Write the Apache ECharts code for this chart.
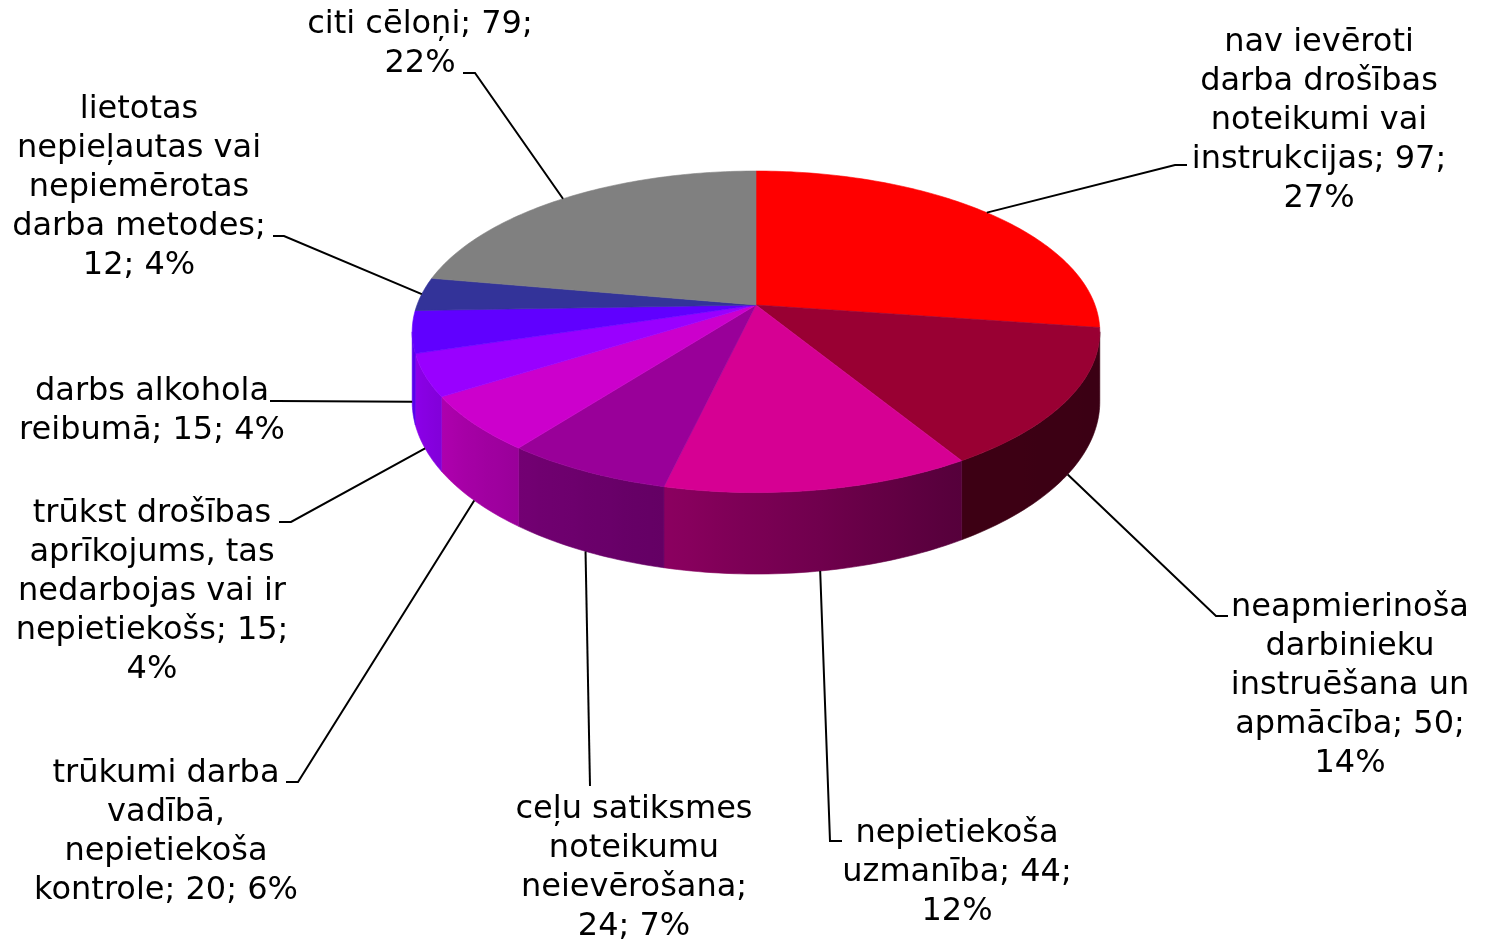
<!DOCTYPE html>
<html><head><meta charset="utf-8">
<script src="https://cdn.jsdelivr.net/npm/echarts@6/dist/echarts.min.js"></script>
<style>html,body{margin:0;padding:0;background:#fff}#c{width:1489px;height:939px}</style>
</head><body><div id="c"></div>
<script>
// ---- data ----
const categories = [
  'nav ievēroti darba drošības noteikumi vai instrukcijas',
  'neapmierinoša darbinieku instruēšana un apmācība',
  'nepietiekoša uzmanība',
  'ceļu satiksmes noteikumu neievērošana',
  'trūkumi darba vadībā, nepietiekoša kontrole',
  'trūkst drošības aprīkojums, tas nedarbojas vai ir nepietiekošs',
  'darbs alkohola reibumā',
  'lietotas nepieļautas vai nepiemērotas darba metodes',
  'citi cēloņi'
];
const values = [97, 50, 44, 24, 20, 15, 15, 12, 79];
const percents = ['27%', '14%', '12%', '7%', '6%', '4%', '4%', '4%', '22%'];

// ---- styles / layout ----
const colors = ['#FF0000', '#990033', '#D60093', '#990099', '#CC00CC', '#9900FF', '#6000FF', '#333399', '#808080'];
// words per line, label centre x, first line centre y, leader elbow, leader end
const labelLayout = [
  { lines: [2, 2, 2, 2, 1], cx: 1319, cy: 40,  pts: [[1175, 165], [1187, 165]] },
  { lines: [1, 1, 2, 2, 1], cx: 1350, cy: 605, pts: [[1216, 616], [1228, 616]] },
  { lines: [1, 2, 1],       cx: 957,  cy: 831, pts: [[830, 841], [842, 841]] },
  { lines: [2, 1, 1, 2],    cx: 634,  cy: 807, pts: [[590, 786]] },
  { lines: [2, 1, 1, 3],    cx: 166,  cy: 771, pts: [[298, 782], [286, 782]] },
  { lines: [2, 2, 3, 2, 1], cx: 152,  cy: 511, pts: [[291, 522], [279, 522]] },
  { lines: [2, 3],          cx: 152,  cy: 389, pts: [[277, 401], [270, 401]] },
  { lines: [1, 2, 1, 2, 2], cx: 139,  cy: 107, pts: [[284, 236], [273, 236]] },
  { lines: [3, 1],          cx: 420,  cy: 22,  pts: [[475, 73], [463, 73]] }
];
const FONT = { size: 32, family: '"DejaVu Sans", Verdana, sans-serif', lineHeight: 39, dy: 3 };
// pie geometry (perspective ellipse)
const G = { cx: 756, cy: 305, a: 339, b: 156.3, k: 0.1667, h: 67.9 };
// wall brightness vs angle (degrees clockwise from top)
const light = [[90, 0.38], [150, 0.40], [193, 0.65], [217, 0.75], [237, 0.85], [253, 0.92], [270, 0.96]];

const total = values.reduce((s, v) => s + v, 0);
const starts = [];
{ let acc = 0; values.forEach(v => { starts.push(acc / total * 360); acc += v; }); }
const TS = Math.acos(-G.k) * 180 / Math.PI; // silhouette angle

function proj(deg, h) {
  const t = deg * Math.PI / 180;
  const u = Math.sin(t), v = -Math.cos(t);
  const w = 1 - G.k * v;
  return [G.cx + G.a * u / w, G.cy + (G.b * v + h) / w];
}
function lightAt(deg) {
  if (deg <= light[0][0]) return light[0][1];
  for (let i = 1; i < light.length; i++) {
    if (deg <= light[i][0]) {
      const [a0, f0] = light[i - 1], [a1, f1] = light[i];
      return f0 + (f1 - f0) * (deg - a0) / (a1 - a0);
    }
  }
  return light[light.length - 1][1];
}
function shade(hex, f) {
  const n = parseInt(hex.slice(1), 16);
  const r = Math.round(((n >> 16) & 255) * f), g = Math.round(((n >> 8) & 255) * f), b = Math.round((n & 255) * f);
  return 'rgb(' + r + ',' + g + ',' + b + ')';
}
function arc(a0, a1, h) {
  const pts = [];
  const n = Math.max(2, Math.ceil((a1 - a0) / 1));
  for (let j = 0; j <= n; j++) pts.push(proj(a0 + (a1 - a0) * j / n, h));
  return pts;
}
function labelText(i) {
  const words = (categories[i] + '; ' + values[i] + '; ' + percents[i]).split(' ');
  const out = []; let p = 0;
  labelLayout[i].lines.forEach(c => { out.push(words.slice(p, p + c).join(' ')); p += c; });
  return out.join('\n');
}

function renderItem(params, api) {
  const i = params.dataIndex;
  const val = api.value(0);
  const a0 = starts[i], a1 = a0 + val / total * 360;
  const col = colors[i];
  const children = [];
  // front wall
  const w0 = Math.max(a0, TS), w1 = Math.min(a1, 360 - TS);
  if (w1 > w0) {
    const top = arc(w0, w1, 0), bot = arc(w0, w1, G.h).reverse();
    const xR = proj(w0, 0)[0], xL = proj(w1, 0)[0];
    const stops = [];
    const n = 12;
    for (let j = 0; j <= n; j++) {
      const ang = w0 + (w1 - w0) * j / n;
      const x = proj(ang, 0)[0];
      stops.push({ offset: Math.min(1, Math.max(0, (x - xL) / (xR - xL))), color: shade(col, lightAt(ang)) });
    }
    stops.sort((p, q) => p.offset - q.offset);
    const grad = { type: 'linear', x: xL, y: 0, x2: xR, y2: 0, global: true, colorStops: stops };
    children.push({ type: 'polygon', shape: { points: top.concat(bot) }, style: { fill: grad, stroke: grad, lineWidth: 0.6 } });
  }
  // top face
  const pts = [[G.cx, G.cy]].concat(arc(a0, a1, 0));
  children.push({ type: 'polygon', shape: { points: pts }, style: { fill: col, stroke: col, lineWidth: 0.6 } });
  // leader line
  const mid = (a0 + a1) / 2;
  const front = -Math.cos(mid * Math.PI / 180) > 0;
  const anchor = proj(mid, front ? G.h : 0);
  children.push({ type: 'polyline', shape: { points: [anchor].concat(labelLayout[i].pts) }, style: { stroke: '#000', lineWidth: 2, fill: null }, z2: 10 });
  // label
  const L = labelLayout[i];
  children.push({
    type: 'text', z2: 11,
    style: {
      text: labelText(i), x: L.cx, y: L.cy - FONT.lineHeight / 2 + FONT.dy,
      align: 'center', verticalAlign: 'top',
      fontSize: FONT.size, fontFamily: FONT.family, lineHeight: FONT.lineHeight, fill: '#000'
    }
  });
  return { type: 'group', children };
}

const chart = echarts.init(document.getElementById('c'), null, { renderer: 'canvas' });
chart.setOption({
  animation: false,
  backgroundColor: '#fff',
  series: [{
    type: 'custom',
    coordinateSystem: 'none',
    silent: true,
    renderItem: renderItem,
    data: values.map((v, i) => ({ name: categories[i], value: [v] }))
  }]
});
</script>
</body></html>
